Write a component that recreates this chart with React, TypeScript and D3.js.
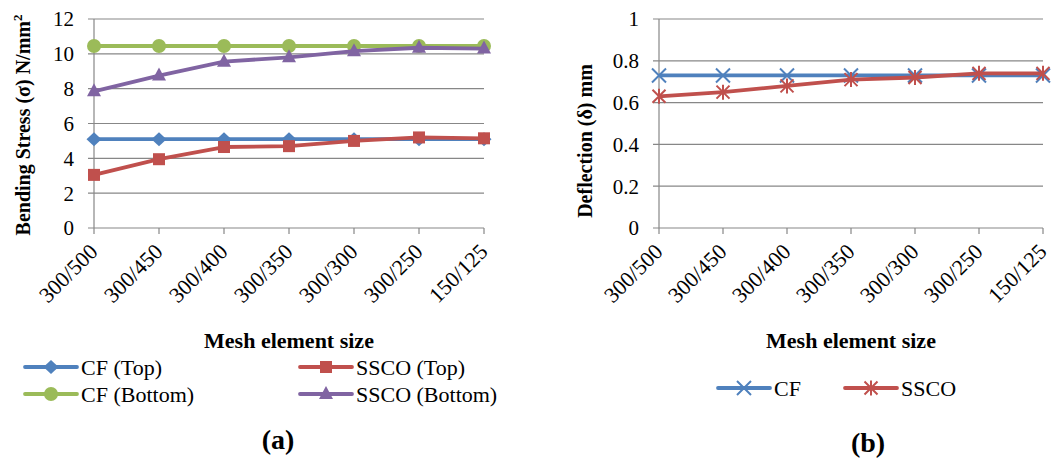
import React from "react";
import * as d3 from "d3";

const categories = ["300/500", "300/450", "300/400", "300/350", "300/300", "300/250", "150/125"];

// Panel (a): bending stress
const cfTop = [5.1, 5.1, 5.1, 5.1, 5.1, 5.1, 5.1];
const sscoTop = [3.05, 3.95, 4.65, 4.7, 5.0, 5.2, 5.15];
const cfBottom = [10.45, 10.45, 10.45, 10.45, 10.45, 10.45, 10.45];
const sscoBottom = [7.85, 8.75, 9.55, 9.8, 10.15, 10.35, 10.3];
const stressTicks = [0, 2, 4, 6, 8, 10, 12];

// Panel (b): deflection
const cfDefl = [0.73, 0.73, 0.73, 0.73, 0.73, 0.73, 0.73];
const sscoDefl = [0.63, 0.65, 0.68, 0.71, 0.72, 0.74, 0.74];
const deflTicks = [0, 0.2, 0.4, 0.6, 0.8, 1];

const BLUE = "#4F81BD";
const RED = "#C0504D";
const GREEN = "#9BBB59";
const PURPLE = "#8064A2";
const GRID = "#878787";
const FONT = "Liberation Serif, Times New Roman, serif";

type MarkerKind = "diamond" | "square" | "circle" | "triangle" | "x" | "star";

function Marker({ kind, x, y, color }: { kind: MarkerKind; x: number; y: number; color: string }) {
  const t = `translate(${x},${y})`;
  switch (kind) {
    case "diamond":
      return <path transform={t} d="M0,-7L7.5,0L0,7L-7.5,0Z" fill={color} />;
    case "square":
      return <rect transform={t} x={-6} y={-6} width={12} height={12} fill={color} />;
    case "circle":
      return <circle transform={t} r={7} fill={color} />;
    case "triangle":
      return <path transform={t} d="M0,-8L7,5L-7,5Z" fill={color} />;
    case "x":
      return <path transform={t} d="M-7,-7L7,7M7,-7L-7,7" stroke={color} strokeWidth={2} fill="none" />;
    case "star":
      return <path transform={t} d="M-6.5,-6.5L6.5,6.5M6.5,-6.5L-6.5,6.5M0,-7.5L0,7.5" stroke={color} strokeWidth={2} fill="none" />;
  }
  return null;
}

interface Series {
  name: string;
  values: number[];
  color: string;
  marker: MarkerKind;
}

interface PanelProps {
  x0: number;
  x1: number;
  yTop: number;
  yBottom: number;
  domain: [number, number];
  ticks: number[];
  series: Series[];
  yTitle: React.ReactNode;
  yTitleX: number;
  yTitleY: number;
}

function Panel({ x0, x1, yTop, yBottom, domain, ticks, series, yTitle, yTitleX, yTitleY }: PanelProps) {
  const x = d3.scalePoint<string>().domain(categories).range([x0, x1]);
  const y = d3.scaleLinear().domain(domain).range([yBottom, yTop]);
  const line = d3
    .line<number>()
    .x((_, i) => x(categories[i]) as number)
    .y((d) => y(d));
  return (
    <g>
      {ticks.map((t) => (
        <g key={"g" + t}>
          <line x1={x0 - 6} x2={x1} y1={y(t)} y2={y(t)} stroke={GRID} strokeWidth={1.2} />
          <text x={x0 - 20} y={y(t)} dy="0.35em" textAnchor="end" fontSize={21} fill="#000">
            {String(t)}
          </text>
        </g>
      ))}
      <line x1={x0} x2={x0} y1={yTop} y2={yBottom} stroke={GRID} strokeWidth={1.2} />
      {categories.map((c) => (
        <g key={c}>
          <line x1={x(c)} x2={x(c)} y1={yBottom} y2={yBottom + 6} stroke={GRID} strokeWidth={1.2} />
          <text
            transform={`translate(${(x(c) as number) + 5},${yBottom + 25}) rotate(-45)`}
            textAnchor="end"
            fontSize={22}
            fill="#000"
          >
            {c}
          </text>
        </g>
      ))}
      {series.map((s) => (
        <g key={s.name}>
          <path d={line(s.values) || ""} fill="none" stroke={s.color} strokeWidth={3.8} strokeLinejoin="round" />
          {s.values.map((v, i) => (
            <Marker key={i} kind={s.marker} x={x(categories[i]) as number} y={y(v)} color={s.color} />
          ))}
        </g>
      ))}
      <text
        transform={`translate(${yTitleX},${yTitleY}) rotate(-90)`}
        textAnchor="middle"
        fontSize={20}
        fontWeight="bold"
        fill="#000"
      >
        {yTitle}
      </text>
      <text x={(x0 + x1) / 2} y={348} textAnchor="middle" fontSize={22} fontWeight="bold" fill="#000">
        Mesh element size
      </text>
    </g>
  );
}

function LegendItem({ s, x, y }: { s: Series; x: number; y: number }) {
  return (
    <g>
      <line x1={x} x2={x + 52} y1={y} y2={y} stroke={s.color} strokeWidth={3.8} strokeLinecap="round" />
      <Marker kind={s.marker} x={x + 26} y={y} color={s.color} />
      <text x={x + 56} y={y} dy="0.35em" fontSize={22} fill="#000">
        {s.name}
      </text>
    </g>
  );
}

export default function App() {
  const stressSeries: Series[] = [
    { name: "CF (Top)", values: cfTop, color: BLUE, marker: "diamond" },
    { name: "SSCO (Top)", values: sscoTop, color: RED, marker: "square" },
    { name: "CF (Bottom)", values: cfBottom, color: GREEN, marker: "circle" },
    { name: "SSCO (Bottom)", values: sscoBottom, color: PURPLE, marker: "triangle" },
  ];
  const deflSeries: Series[] = [
    { name: "CF", values: cfDefl, color: BLUE, marker: "x" },
    { name: "SSCO", values: sscoDefl, color: RED, marker: "star" },
  ];
  return (
    <svg
      width={1051}
      height={461}
      style={{ position: "absolute", left: 0, top: 0, background: "#fff", fontFamily: FONT }}
    >
      <rect width={1051} height={461} fill="#fff" />
      <Panel
        x0={94}
        x1={484}
        yTop={19}
        yBottom={228}
        domain={[0, 12]}
        ticks={stressTicks}
        series={stressSeries}
        yTitleX={30}
        yTitleY={125}
        yTitle={
          <>
            Bending Stress (σ) N/mm
            <tspan dy={-8} fontSize={13}>2</tspan>
          </>
        }
      />
      <Panel
        x0={659}
        x1={1043}
        yTop={19}
        yBottom={228}
        domain={[0, 1]}
        ticks={deflTicks}
        series={deflSeries}
        yTitleX={592}
        yTitleY={141}
        yTitle="Deflection (δ) mm"
      />
      <LegendItem s={stressSeries[0]} x={25} y={367} />
      <LegendItem s={stressSeries[1]} x={300} y={367} />
      <LegendItem s={stressSeries[2]} x={25} y={394} />
      <LegendItem s={stressSeries[3]} x={300} y={394} />
      <LegendItem s={deflSeries[0]} x={718} y={388} />
      <LegendItem s={deflSeries[1]} x={845} y={388} />
      <text x={278} y={449} textAnchor="middle" fontSize={28} fontWeight="bold" fill="#000">
        (a)
      </text>
      <text x={868} y={452} textAnchor="middle" fontSize={28} fontWeight="bold" fill="#000">
        (b)
      </text>
    </svg>
  );
}
